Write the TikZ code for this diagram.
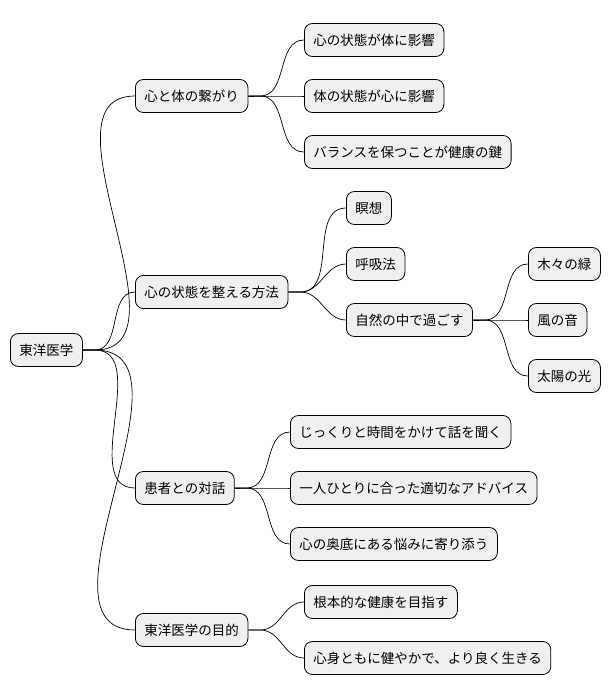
\documentclass[tikz,border=0pt]{standalone}
\usepackage{fontspec}
\setmainfont{Noto Sans CJK JP}
\begin{document}
\begin{tikzpicture}[x=1pt,y=-1pt,
  topic/.style={draw, fill=black!6, rounded corners=8pt, anchor=west,
    minimum height=33pt, inner xsep=9pt, font=\fontsize{13.5pt}{15pt}\selectfont, line width=0.8pt},
  link/.style={line width=0.7pt}]
  \useasboundingbox (0,0) rectangle (614,696);
  % root and branches
  \node[topic] (root) at (10,350) {東洋医学};
  \node[topic] (bond) at (135,96) {心と体の繋がり};
  \node[topic] (ways) at (135,292) {心の状態を整える方法};
  \node[topic] (talk) at (135,488) {患者との対話};
  \node[topic] (goal) at (135,630) {東洋医学の目的};
  % leaves
  \node[topic] (b1) at (304,40) {心の状態が体に影響};
  \node[topic] (b2) at (304,96) {体の状態が心に影響};
  \node[topic] (b3) at (304,152) {バランスを保つことが健康の鍵};
  \node[topic] (w1) at (346,208) {瞑想};
  \node[topic] (w2) at (346,264) {呼吸法};
  \node[topic] (w3) at (346,320) {自然の中で過ごす};
  \node[topic] (n1) at (528,264) {木々の緑};
  \node[topic] (n2) at (528,320) {風の音};
  \node[topic] (n3) at (528,376) {太陽の光};
  \node[topic] (t1) at (290,432) {じっくりと時間をかけて話を聞く};
  \node[topic] (t2) at (290,488) {一人ひとりに合った適切なアドバイス};
  \node[topic] (t3) at (290,544) {心の奥底にある悩みに寄り添う};
  \node[topic] (g1) at (304,602) {根本的な健康を目指す};
  \node[topic] (g2) at (304,658) {心身ともに健やかで、より良く生きる};
  % connectors
  \foreach \p/\c in {root/bond,root/ways,root/talk,root/goal,
      bond/b1,bond/b2,bond/b3,ways/w1,ways/w2,ways/w3,
      w3/n1,w3/n2,w3/n3,talk/t1,talk/t2,talk/t3,goal/g1,goal/g2}
    \draw[link] (\p.east) -- ++(12,0) to[out=0,in=180] (\c.west);
\end{tikzpicture}
\end{document}
